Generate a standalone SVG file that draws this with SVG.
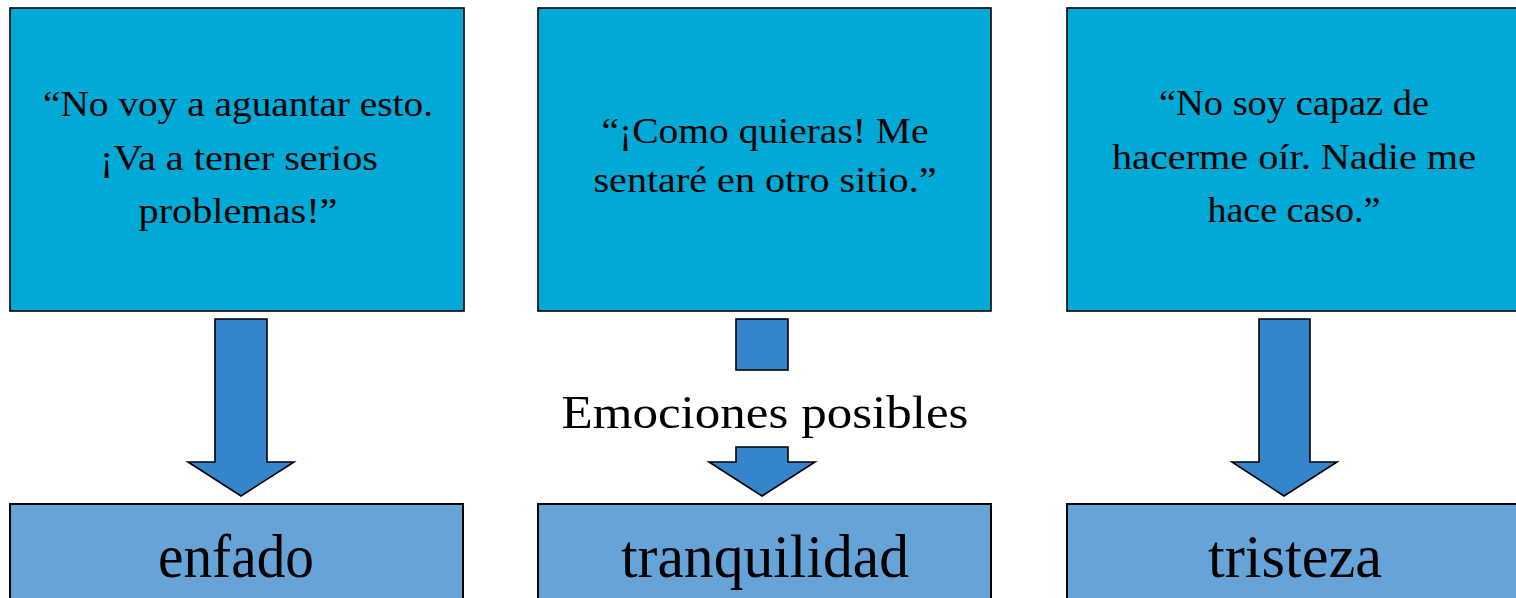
<svg xmlns="http://www.w3.org/2000/svg" width="1516" height="598" viewBox="0 0 1516 598">
<style>
.top{fill:#00A9D6;stroke:#000;stroke-width:1.6}
.bot{fill:#66A3D8;stroke:#000;stroke-width:2}
.arr{fill:#3585CC;stroke:#000;stroke-width:1.6;stroke-linejoin:miter}
.q{font-family:"Liberation Serif",serif;font-size:36px;fill:#000;text-anchor:middle}
.e{font-family:"Liberation Serif",serif;font-size:61px;fill:#000;text-anchor:middle}
.lbl{font-family:"Liberation Serif",serif;font-size:47px;fill:#000;text-anchor:middle}
</style>
<rect width="1516" height="598" fill="#fff"/>
<g id="q1">
<rect class="top" x="10" y="8" width="454" height="303"/>
<text class="q" x="238" y="116" textLength="390" lengthAdjust="spacingAndGlyphs">“No voy a aguantar esto.</text>
<text class="q" x="239" y="170" textLength="278" lengthAdjust="spacingAndGlyphs">¡Va a tener serios</text>
<text class="q" x="238" y="223" textLength="199" lengthAdjust="spacingAndGlyphs">problemas!”</text>
</g>
<g id="q2">
<rect class="top" x="538" y="8" width="453" height="303"/>
<text class="q" x="765" y="143" textLength="327" lengthAdjust="spacingAndGlyphs">“¡Como quieras! Me</text>
<text class="q" x="765" y="192" textLength="343" lengthAdjust="spacingAndGlyphs">sentaré en otro sitio.”</text>
</g>
<g id="q3">
<rect class="top" x="1067" y="8" width="454" height="303"/>
<text class="q" x="1294" y="115" textLength="270" lengthAdjust="spacingAndGlyphs">“No soy capaz de</text>
<text class="q" x="1294" y="169" textLength="364" lengthAdjust="spacingAndGlyphs">hacerme oír. Nadie me</text>
<text class="q" x="1294" y="222" textLength="173" lengthAdjust="spacingAndGlyphs">hace caso.”</text>
</g>
<g id="connectors">
<polygon class="arr" points="215,319 267,319 267,462 294,462 241,496 188,462 215,462"/>
<rect class="arr" x="736" y="319" width="52" height="51"/>
<polygon class="arr" points="736,447 788,447 788,462 815,462 762,496 709,462 736,462"/>
<polygon class="arr" points="1259,319 1310,319 1310,462 1337,462 1284,496 1232,462 1259,462"/>
</g>
<g id="label">
<text class="lbl" x="765" y="428" textLength="407" lengthAdjust="spacingAndGlyphs">Emociones posibles</text>
</g>
<g id="e1">
<rect class="bot" x="10" y="504" width="453" height="110"/>
<text class="e" x="236" y="577" textLength="156" lengthAdjust="spacingAndGlyphs">enfado</text>
</g>
<g id="e2">
<rect class="bot" x="538" y="504" width="453" height="110"/>
<text class="e" x="765" y="577" textLength="288" lengthAdjust="spacingAndGlyphs">tranquilidad</text>
</g>
<g id="e3">
<rect class="bot" x="1067" y="504" width="454" height="110"/>
<text class="e" x="1295" y="577" textLength="174" lengthAdjust="spacingAndGlyphs">tristeza</text>
</g>
</svg>
